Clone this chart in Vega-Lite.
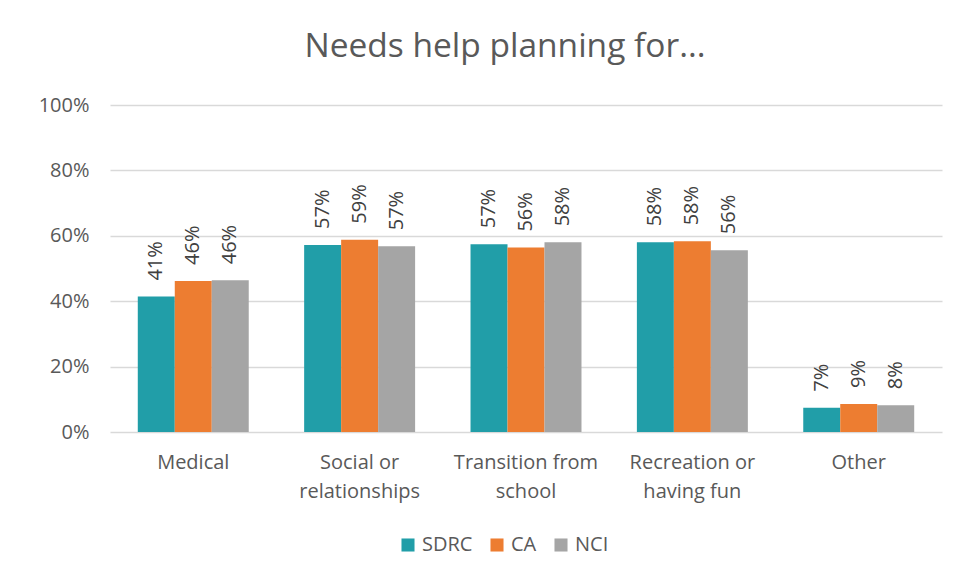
{
  "$schema": "https://vega.github.io/schema/vega-lite/v6.json",
  "autosize": {"type": "none"},
  "width": 832,
  "height": 327,
  "padding": {"left": 110, "top": 105, "right": 34, "bottom": 150},
  "background": "white",
  "title": {
    "text": "Needs help planning for...",
    "fontSize": 33.5,
    "font": "Open Sans",
    "fontWeight": "normal",
    "color": "#595959",
    "anchor": "middle",
    "dx": -21,
    "offset": 31
  },
  "data": {
    "values": [
      {"category": "Medical", "group": "SDRC", "value": 0.414},
      {"category": "Medical", "group": "CA", "value": 0.462},
      {"category": "Medical", "group": "NCI", "value": 0.464},
      {"category": "Social or relationships", "group": "SDRC", "value": 0.572},
      {"category": "Social or relationships", "group": "CA", "value": 0.588},
      {"category": "Social or relationships", "group": "NCI", "value": 0.568},
      {"category": "Transition from school", "group": "SDRC", "value": 0.574},
      {"category": "Transition from school", "group": "CA", "value": 0.564},
      {"category": "Transition from school", "group": "NCI", "value": 0.580},
      {"category": "Recreation or having fun", "group": "SDRC", "value": 0.580},
      {"category": "Recreation or having fun", "group": "CA", "value": 0.583},
      {"category": "Recreation or having fun", "group": "NCI", "value": 0.556},
      {"category": "Other", "group": "SDRC", "value": 0.074},
      {"category": "Other", "group": "CA", "value": 0.086},
      {"category": "Other", "group": "NCI", "value": 0.082}
    ]
  },
  "encoding": {
    "x": {
      "field": "category",
      "type": "nominal",
      "sort": null,
      "scale": {"paddingInner": 0.333, "paddingOuter": 0.167},
      "axis": {
        "title": null,
        "domain": false,
        "ticks": false,
        "labelAngle": 0,
        "labelFont": "Open Sans",
        "labelFontSize": 20,
        "labelColor": "#595959",
        "labelPadding": 20,
        "labelLineHeight": 29,
        "labelExpr": "datum.label == 'Social or relationships' ? ['Social or', 'relationships'] : datum.label == 'Transition from school' ? ['Transition from', 'school'] : datum.label == 'Recreation or having fun' ? ['Recreation or', 'having fun'] : datum.label"
      }
    },
    "xOffset": {
      "field": "group",
      "type": "nominal",
      "sort": ["SDRC", "CA", "NCI"],
      "scale": {"paddingInner": 0, "paddingOuter": 0}
    },
    "y": {
      "field": "value",
      "type": "quantitative",
      "scale": {"domain": [0, 1], "nice": false},
      "axis": {
        "title": null,
        "values": [0, 0.2, 0.4, 0.6, 0.8, 1],
        "format": ".0%",
        "domain": false,
        "ticks": false,
        "grid": true,
        "gridColor": "#d9d9d9",
        "gridWidth": 1.5,
        "labelFont": "Open Sans",
        "labelFontSize": 20,
        "labelColor": "#595959",
        "labelPadding": 21
      }
    }
  },
  "layer": [
    {
      "mark": {"type": "bar"},
      "encoding": {
        "color": {
          "field": "group",
          "type": "nominal",
          "sort": ["SDRC", "CA", "NCI"],
          "scale": {"domain": ["SDRC", "CA", "NCI"], "range": ["#219EA8", "#ED7D31", "#A5A5A5"]},
          "legend": {
            "title": null,
            "orient": "none",
            "legendX": 288,
            "legendY": 430,
            "direction": "horizontal",
            "symbolType": "square",
            "symbolSize": 170,
            "symbolStrokeWidth": 0,
            "labelFont": "Open Sans",
            "labelFontSize": 20,
            "labelColor": "#595959",
            "columnPadding": 14,
            "labelOffset": 4
          }
        }
      }
    },
    {
      "mark": {
        "type": "text",
        "angle": -90,
        "align": "left",
        "baseline": "middle",
        "dx": 16,
        "font": "Open Sans",
        "fontSize": 20,
        "color": "#404040"
      },
      "encoding": {
        "text": {"field": "value", "type": "quantitative", "format": ".0%"}
      }
    }
  ],
  "config": {
    "view": {"stroke": null}
  }
}
